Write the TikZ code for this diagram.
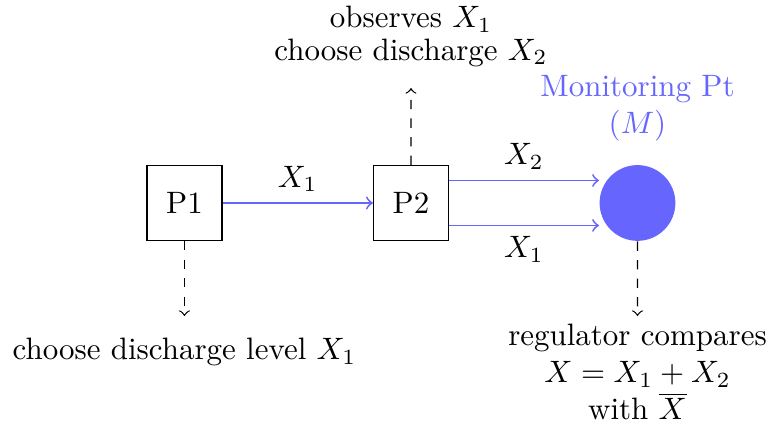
\documentclass[tikz,border=0pt]{standalone}
\usetikzlibrary{positioning}

\tikzset{
  player/.style={draw, minimum size=0.85cm, inner sep=0pt},
  flow/.style={->, blue!60, semithick},
  note/.style={->, dashed},
  amount/.style={text=black},
}

\begin{document}
\begin{tikzpicture}[node distance=2.571cm, on grid]
  \useasboundingbox (-2.094,-2.52) rectangle (6.646,2.304);
  % players and monitoring point
  \node[player] (p1) at (0,0) {P1};
  \node[player, right=of p1] (p2) {P2};
  \node[circle, fill=blue!60, minimum size=0.86cm, right=of p2] (m) {};
  \node[blue!60, align=center, above=1.073cm of m] (mlabel) {Monitoring Pt\\$(M)$};

  % discharges
  \draw[flow] (p1) -- node[above, amount] {$X_1$} (p2);
  \coordinate (p2hi) at ([yshift=0.255cm]p2.east);
  \coordinate (p2lo) at ([yshift=-0.255cm]p2.east);
  \coordinate (mhi) at (p2hi -| m.west);
  \coordinate (mlo) at (p2lo -| m.west);
  \draw[flow] (p2hi) -- node[above, amount] {$X_2$} (mhi);
  \draw[flow] (p2lo) -- node[below, amount] {$X_1$} (mlo);

  % decisions
  \coordinate (p1end) at (0,-1.283);
  \coordinate (p2end) at (2.571,1.305);
  \coordinate (mend) at (5.142,-1.283);
  \draw[note] (p1) -- (p1end);
  \draw[note] (p2) -- (p2end);
  \draw[note] (m) -- (mend);
  \node[below=1.69cm of p1] (p1note) {choose discharge level $X_1$};
  \node[align=center, above=1.89cm of p2] (p2note) {observes $X_1$\\[-1.5pt]choose discharge $X_2$};
  \node[align=center, below=1.92cm of m] (mnote) {regulator compares\\$X=X_1+X_2$\\with $\overline{X}$};
\end{tikzpicture}
\end{document}
